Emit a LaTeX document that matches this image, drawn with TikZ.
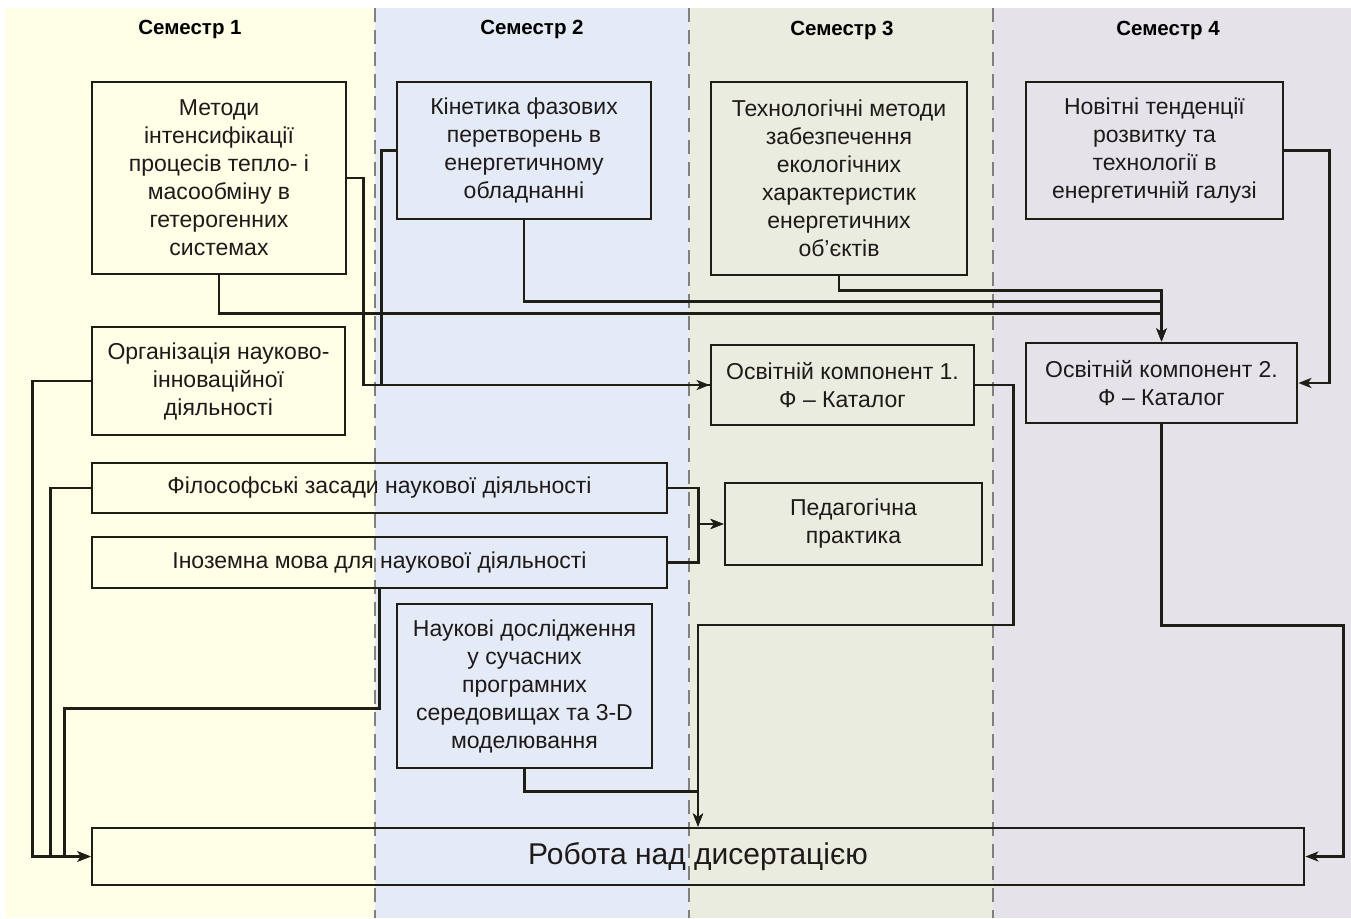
\documentclass[tikz,border=0pt]{standalone}
\usepackage{fontspec}
\setmainfont{Liberation Sans}
\usetikzlibrary{arrows.meta}

\definecolor{semA}{HTML}{FFFEE6}
\definecolor{semB}{HTML}{E4EBF7}
\definecolor{semC}{HTML}{E9ECDF}
\definecolor{semD}{HTML}{E5E2EA}
\definecolor{linecol}{HTML}{1E1E16}
\definecolor{textcol}{HTML}{1E1A1A}

\begin{document}
\begin{tikzpicture}[x=1pt, y=-1pt, >={Stealth[length=13pt,width=10pt,inset=3.5pt]},
    box/.style={draw=linecol, line width=2.8pt, inner sep=0pt, align=center,
        text=textcol, font=\fontsize{23}{28}\selectfont},
    head/.style={font=\bfseries\fontsize{20.5}{22}\selectfont},
    conn/.style={draw=linecol, line width=2.4pt},
    border/.style={draw=black!50, line width=2pt, dash pattern=on 14pt off 8pt}]
    \useasboundingbox[fill=white] (0,0) rectangle (1351,918);

    % Смуги семестрів
    \fill[semA] (5,8) rectangle (375,918);
    \fill[semB] (375,8) rectangle (689,918);
    \fill[semC] (689,8) rectangle (993,918);
    \fill[semD] (993,8) rectangle (1351,918);
    \draw[border] (375,8) -- (375,918);
    \draw[border] (689,8) -- (689,918);
    \draw[border] (993,8) -- (993,918);

    % Заголовки
    \node[head] (sem1) at (190,29) {Семестр 1};
    \node[head] (sem2) at (532,29) {Семестр 2};
    \node[head] (sem3) at (842,30) {Семестр 3};
    \node[head] (sem4) at (1168,30) {Семестр 4};

    % Дисципліни
    \node[box, minimum width=254, minimum height=192] (metody) at (219,178)
        {Методи\\інтенсифікації\\процесів тепло- і\\масообміну в\\гетерогенних\\системах};
    \node[box, minimum width=254, minimum height=137] (kinetyka) at (524,150.5)
        {Кінетика фазових\\перетворень в\\енергетичному\\обладнанні};
    \node[box, minimum width=256, minimum height=193] (tekhn) at (839,178.5)
        {Технологічні методи\\забезпечення\\екологічних\\характеристик\\енергетичних\\об’єктів};
    \node[box, minimum width=257, minimum height=137] (novitni) at (1154.5,150.5)
        {Новітні тенденції\\розвитку та\\технології в\\енергетичній галузі};
    \node[box, minimum width=253, minimum height=108] (orhaniz) at (218.5,381)
        {Організація науково-\\інноваційної\\діяльності};
    \node[box, minimum width=263, minimum height=80] (okomp1) at (842.5,385)
        {Освітній компонент 1.\\Ф – Каталог};
    \node[box, minimum width=271, minimum height=80] (okomp2) at (1161.5,383)
        {Освітній компонент 2.\\Ф – Каталог};
    \node[box, minimum width=575, minimum height=50] (filos) at (379.5,488)
        {Філософські засади наукової діяльності};
    \node[box, minimum width=575, minimum height=51] (inozem) at (379.5,562.5)
        {Іноземна мова для наукової діяльності};
    \node[box, minimum width=257, minimum height=82] (pedag) at (853.5,524)
        {Педагогічна\\практика};
    \node[box, minimum width=255, minimum height=164] (naukovi) at (524.5,686)
        {Наукові дослідження\\у сучасних\\програмних\\середовищах та 3-D\\моделювання};
    \node[box, minimum width=1212, minimum height=57, font=\fontsize{30}{32}\selectfont] (robota) at (698,856.5)
        {Робота над дисертацією};

    % До освітнього компонента 1
    \draw[conn, ->] (metody.east) -- ++(16,0) |- (okomp1.west);
    \draw[conn] (kinetyka.west) -- ++(-14,0) |- (okomp1.west);

    % До освітнього компонента 2
    \draw[conn, ->] (metody.south) -- ++(0,38) -| (okomp2.north);
    \draw[conn, ->] (kinetyka.south) -- ++(0,81) -| (okomp2.north);
    \draw[conn, ->] (tekhn.south) -- ++(0,14) -| (okomp2.north);
    \draw[conn, ->] (novitni.east) -- ++(45,0) |- (okomp2.east);

    % Педагогічна практика
    \draw[conn, ->] (filos.east) -- ++(30,0) |- (pedag.west);
    \draw[conn, ->] (inozem.east) -- ++(30,0) |- (pedag.west);

    % Робота над дисертацією
    \draw[conn, ->] (orhaniz.west) -- ++(-58,0) |- (robota.west);
    \draw[conn, ->] (filos.west) -- ++(-40,0) |- (robota.west);
    \draw[conn, ->] (inozem.south) -- ++(0,119) -- ++(-315,0) |- (robota.west);
    \draw[conn, ->] (okomp1.east) -- ++(38,0) -- ++(0,240) -| (robota.north);
    \draw[conn, ->] (naukovi.south) -- ++(0,22) -| (robota.north);
    \draw[conn, ->] (okomp2.south) -- ++(0,201) -- ++(182,0) |- (robota.east);
\end{tikzpicture}
\end{document}
